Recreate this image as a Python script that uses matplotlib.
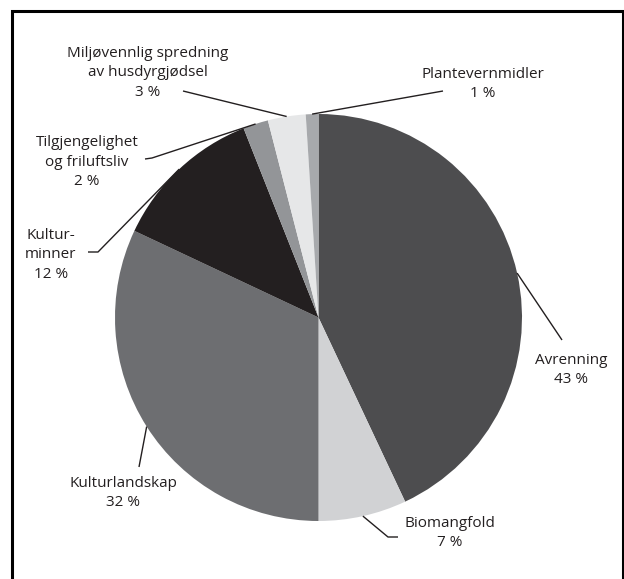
import numpy as np
import matplotlib
matplotlib.use("Agg")
import matplotlib.pyplot as plt

# ---- data ----
categories = ["Avrenning", "Biomangfold", "Kulturlandskap", "Kultur-\nminner",
              "Tilgjengelighet\nog friluftsliv", "Miljøvennlig spredning\nav husdyrgjødsel",
              "Plantevernmidler"]
values = [43, 7, 32, 12, 2, 3, 1]
colors = ["#4d4d4f", "#d1d2d4", "#6d6e71", "#231f20", "#939598", "#e6e7e8", "#a7a9ac"]

# ---- layout (pixel coords from top-left) ----
W, H = 624, 579
center_px = (318.5, 317.5)
radius_px = 203.5
# text block centers
text_pos = [(571, 370), (450, 533), (123, 493), (51, 255), (87, 162), (148, 73), (483, 84)]
# leader line points (from label side toward the pie edge point)
leader_pts = [
    [(562, 340)],
    [(398, 537), (388, 537)],
    [(139, 467)],
    [(88, 252), (98, 252)],
    [(145, 159), (152, 158)],
    [(183, 91)],
    [(443, 91)],
]

plt.rcParams['font.family'] = ['Open Sans', 'DejaVu Sans']
fig = plt.figure(figsize=(W / 100, H / 100), dpi=100)
ax = fig.add_axes([0, 0, 1, 1])

def py(y):
    return H - y

cx, cy = center_px[0], py(center_px[1])
wedges, _ = ax.pie(values, colors=colors, startangle=90, counterclock=False,
                   center=(cx, cy), radius=radius_px,
                   wedgeprops=dict(linewidth=0))

for w, lab, v, tp, pts in zip(wedges, categories, values, text_pos, leader_pts):
    mid = np.deg2rad((w.theta1 + w.theta2) / 2)
    ex = cx + radius_px * np.cos(mid)
    ey = cy + radius_px * np.sin(mid)
    xs = [p[0] for p in pts] + [ex]
    ys = [py(p[1]) for p in pts] + [ey]
    ax.plot(xs, ys, color="#231f20", lw=1.0, solid_capstyle='butt')
    ax.text(tp[0], py(tp[1]), f"{lab}\n{v} %", ha="center", va="center",
            fontsize=11, color="#231f20", linespacing=1.38)

# open-bottom frame
ax.plot([12, 12, 622.5, 622.5], [-5, py(11), py(11), -5], color="black", lw=2.2,
        solid_joinstyle='miter')

ax.set_xlim(0, W)
ax.set_ylim(0, H)
ax.set_aspect('auto')
ax.axis('off')
fig.savefig("out.png", dpi=100)
